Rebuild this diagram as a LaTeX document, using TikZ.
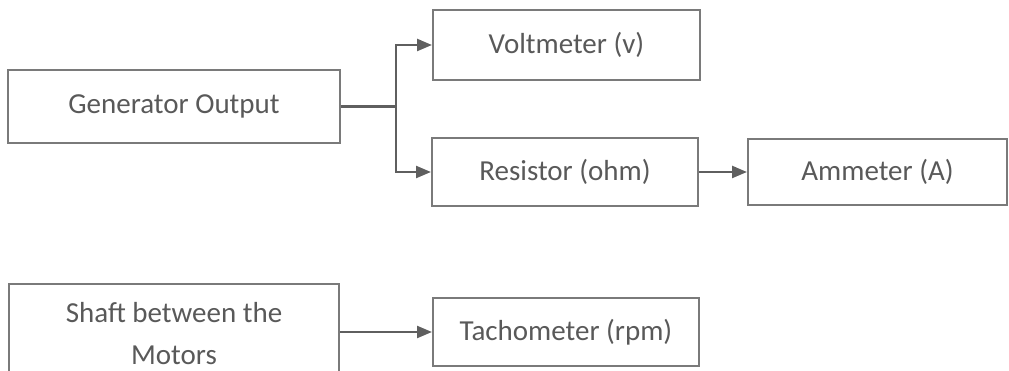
\documentclass[tikz,border=0pt]{standalone}
\usepackage{fontspec}
\setmainfont{Carlito}
\usetikzlibrary{arrows.meta}
\definecolor{txtgray}{HTML}{595959}
\definecolor{boxgray}{HTML}{7A7A7A}
\definecolor{linegray}{HTML}{5F5F5F}
\begin{document}
\begin{tikzpicture}[x=1pt,y=-1pt,
  blockbox/.style={draw=boxgray,line width=2pt,rectangle,inner sep=0pt,
    text=txtgray,font=\fontsize{29}{42}\selectfont,align=center},
  conn/.style={draw=linegray,line width=2.4pt,-{Triangle[length=15pt,width=12pt]}},
  plain/.style={draw=linegray,line width=2.4pt}]
\useasboundingbox (0,0) rectangle (1009,371);
\node[blockbox,minimum width=332pt,minimum height=73pt] (gen) at (174,106.5) {Generator Output};
\node[blockbox,minimum width=267pt,minimum height=70pt] (vm) at (566.5,45) {Voltmeter (v)};
\node[blockbox,minimum width=266pt,minimum height=68pt] (res) at (565,172) {Resistor (ohm)};
\node[blockbox,minimum width=259pt,minimum height=66pt] (amm) at (877.5,172) {Ammeter (A)};
\node[blockbox,minimum width=330pt,minimum height=100pt] (shaft) at (174,334) {Shaft between the\\Motors};
\node[blockbox,minimum width=266pt,minimum height=68pt] (tach) at (566,332) {Tachometer (rpm)};
\coordinate (br) at (396,106.5);
\draw[plain] (gen.east) -- (br);
\draw[conn] (br) |- (vm.west);
\draw[conn] (br) |- (res.west);
\draw[conn] (res.east) -- (amm.west);
\draw[conn] (shaft.east |- tach.west) -- (tach.west);
\end{tikzpicture}
\end{document}
